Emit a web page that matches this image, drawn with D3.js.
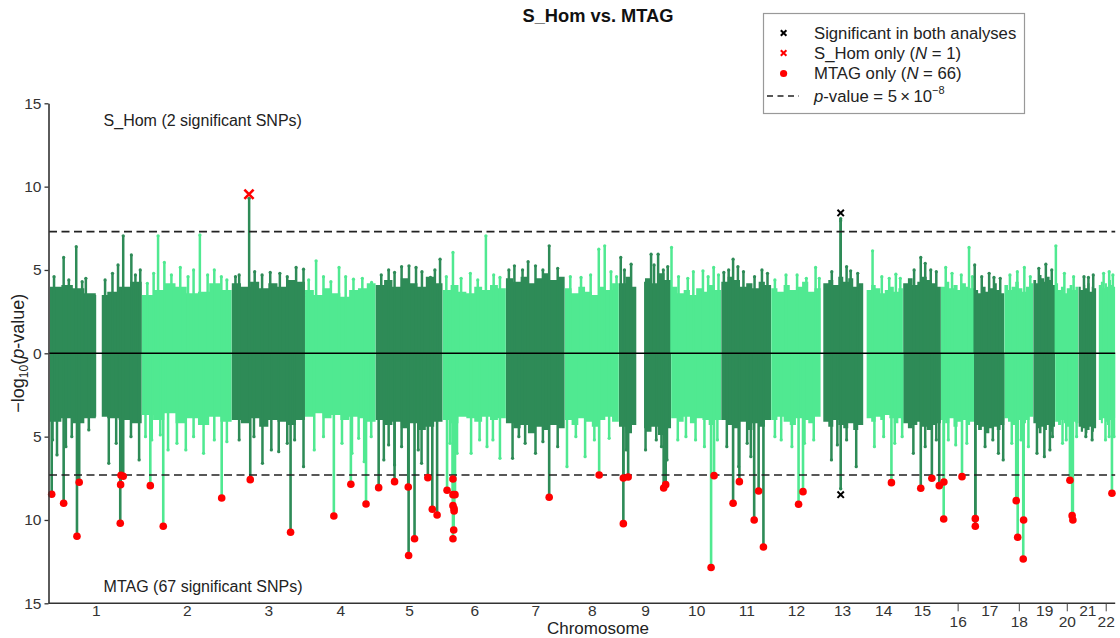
<!DOCTYPE html>
<html>
<head>
<meta charset="utf-8">
<script src="https://cdn.jsdelivr.net/npm/d3@7"></script>
<style>
  body { margin: 0; background: #fff; }
  svg { display: block; font-family: "Liberation Sans", Arial, sans-serif; }
</style>
</head>
<body>
<svg id="chart" width="1120" height="638"></svg>
<script>
// ---- Chromosome layout (hg19 lengths, Mb) ----
const chromosomes = ["1","2","3","4","5","6","7","8","9","10","11","12","13","14","15","16","17","18","19","20","21","22"];
const chromLengthMb = [249.25, 243.2, 198.0, 191.15, 180.9, 171.1, 159.1, 146.4, 141.2, 135.5, 135.0, 133.85, 115.2, 107.3, 102.5, 90.35, 81.2, 78.1, 59.1, 63.0, 48.1, 51.3];
const chromDataStartMb = [0.8, 0.1, 0.1, 0.1, 0.1, 0.2, 0.1, 0.2, 0.2, 0.1, 0.2, 0.2, 7, 9, 0.5, 0.1, 0.1, 0.1, 0.3, 0.1, 0.5, 7];
// regions without markers (chromosome, from Mb, to Mb)
const chromGaps = [[1, 126, 141], [9, 47, 68]];

// ---- Bulk of non-significant SNPs: -log10(p) envelope, evenly spaced along each chromosome ----
const sHomEnvelope = [
  [4.0, 4.1, 3.9, 3.6, 3.5, 3.7, 4.0, 4.3],
  [3.5, 3.8, 4.2, 4.0, 3.6, 3.7, 4.2, 3.8],
  [4.2, 4.0, 4.3, 3.9, 4.2, 4.0, 4.4, 4.3],
  [3.8, 3.5, 3.9, 3.6, 3.4, 3.8, 3.9, 4.2],
  [4.1, 4.4, 4.0, 4.5, 4.2, 4.0, 4.6, 4.2],
  [3.8, 4.1, 3.7, 3.6, 4.0, 3.8, 4.1, 3.9],
  [4.5, 4.3, 4.6, 4.2, 4.5, 4.8, 4.4, 4.6],
  [3.9, 3.6, 4.0, 3.7, 3.5, 4.0, 3.8, 4.2],
  [4.2, 4.6, 4.0, 4.3, 4.5, 4.2, 4.8, 4.4],
  [4.0, 3.6, 3.8, 3.5, 3.9, 3.7, 4.1, 3.8],
  [4.3, 4.6, 4.4, 4.0, 4.2, 3.9, 4.3, 4.1],
  [3.9, 3.7, 4.1, 3.8, 4.0, 4.3, 3.7, 3.9],
  [4.2, 4.4, 4.1, 4.6, 4.3, 4.5, 4.0, 4.2],
  [3.8, 4.1, 3.9, 3.6, 3.8, 4.0, 3.7, 3.9],
  [4.2, 4.5, 4.1, 4.3, 4.6, 4.4, 4.2, 4.0],
  [4.0, 4.3, 3.9, 4.1, 3.8, 4.2, 4.0, 3.9],
  [3.8, 3.6, 4.0, 3.7, 3.9, 4.2, 3.8, 3.6],
  [4.1, 3.8, 4.0, 4.3, 3.9, 3.7, 4.0, 4.2],
  [4.4, 4.2, 4.7, 4.5, 4.3, 4.6, 4.4, 4.1],
  [4.2, 3.8, 4.0, 3.6, 3.9, 4.1, 3.8, 4.0],
  [4.0, 3.8, 4.1, 3.9, 4.2, 3.7, 4.0, 3.9],
  [4.1, 4.3, 3.9, 4.2, 4.0, 4.4, 4.1, 4.0]
];
const mtagEnvelope = [
  [4.1, 3.9, 4.2, 3.9, 3.8, 3.9, 4.0, 4.2],
  [3.7, 4.0, 3.6, 4.2, 3.9, 4.3, 3.8, 4.1],
  [4.0, 4.2, 3.9, 4.4, 4.0, 4.1, 4.3, 4.0],
  [3.8, 3.6, 3.9, 3.7, 4.0, 3.8, 3.9, 4.1],
  [4.0, 4.3, 4.1, 4.5, 4.2, 4.6, 4.4, 4.1],
  [4.0, 4.2, 3.8, 3.9, 4.1, 3.8, 4.0, 3.9],
  [4.2, 4.5, 4.3, 4.8, 4.4, 4.6, 4.3, 4.5],
  [4.0, 4.3, 3.9, 4.1, 4.4, 4.0, 3.8, 4.1],
  [4.4, 4.8, 4.3, 4.5, 4.7, 4.4, 4.9, 4.5],
  [3.9, 4.1, 3.8, 4.2, 3.9, 4.0, 4.3, 4.0],
  [4.0, 4.3, 4.5, 4.1, 4.6, 4.2, 4.4, 4.0],
  [4.0, 3.8, 4.1, 4.3, 3.9, 4.0, 4.2, 3.8],
  [4.1, 4.4, 4.0, 4.3, 4.5, 4.2, 4.6, 4.3],
  [3.9, 4.1, 3.8, 4.0, 3.7, 3.9, 4.2, 3.9],
  [4.2, 4.5, 4.3, 4.1, 4.4, 4.6, 4.3, 4.2],
  [4.0, 4.2, 3.9, 4.4, 4.1, 4.0, 4.3, 4.1],
  [4.3, 4.6, 4.4, 4.8, 4.5, 4.4, 4.6, 4.3],
  [3.9, 4.1, 4.3, 3.9, 4.0, 4.2, 4.0, 3.8],
  [4.2, 4.5, 4.8, 4.4, 4.6, 4.3, 4.7, 4.4],
  [4.1, 4.3, 4.0, 4.2, 4.4, 3.9, 4.1, 4.2],
  [4.4, 4.7, 4.5, 4.8, 4.6, 4.4, 4.7, 4.5],
  [4.0, 4.2, 3.9, 4.1, 4.3, 4.0, 4.2, 3.9]
];

// ---- Sub-threshold peaks: [chromosome, position Mb, -log10(p)] ----
const sHomPeaks = [
  [1, 12, 4.6], [1, 38, 5.75], [1, 52, 4.4], [1, 72, 6.4], [1, 88, 4.3], [1, 98, 4.5], [1, 150, 4.4], [1, 170, 4.8], [1, 185, 5.3], [1, 199, 7.05], [1, 221, 5.9], [1, 232, 4.7], [1, 245, 5.0],
  [2, 15, 4.2], [2, 32, 4.8], [2, 44, 7.05], [2, 61, 5.45], [2, 80, 4.7], [2, 104, 5.15], [2, 125, 4.6], [2, 140, 5.0], [2, 157, 7.1], [2, 178, 4.7], [2, 196, 5.0], [2, 215, 4.6], [2, 230, 4.4],
  [3, 10, 4.6], [3, 20, 4.7], [3, 47, 9.3], [3, 62, 4.9], [3, 82, 4.7], [3, 104, 4.85], [3, 130, 4.8], [3, 150, 4.6], [3, 174, 5.15], [3, 194, 5.05],
  [4, 10, 4.4], [4, 30, 5.55], [4, 50, 4.6], [4, 70, 4.3], [4, 92, 5.15], [4, 110, 4.6], [4, 131, 4.45], [4, 155, 4.5], [4, 180, 4.25],
  [5, 15, 4.7], [5, 35, 5.0], [5, 51, 4.85], [5, 70, 5.2], [5, 90, 5.25], [5, 109, 5.15], [5, 125, 4.9], [5, 148, 4.55], [5, 160, 5.0], [5, 174, 5.65],
  [6, 10, 4.6], [6, 28, 6.05], [6, 50, 4.5], [6, 75, 4.8], [6, 95, 4.4], [6, 117, 7.05], [6, 138, 4.7], [6, 155, 4.55],
  [7, 8, 5.0], [7, 23, 5.25], [7, 45, 5.0], [7, 60, 5.5], [7, 80, 5.25], [7, 100, 5.0], [7, 117, 6.45], [7, 140, 5.1],
  [8, 15, 4.6], [8, 44, 4.55], [8, 70, 4.7], [8, 92, 6.25], [8, 108, 6.45], [8, 125, 4.9], [8, 140, 4.6],
  [9, 5, 5.75], [9, 15, 5.0], [9, 33, 5.35], [9, 87, 5.95], [9, 95, 5.3], [9, 106, 5.95], [9, 120, 5.0], [9, 132, 5.2],
  [10, 1, 6.35], [10, 20, 4.6], [10, 45, 4.5], [10, 60, 4.9], [10, 86, 4.95], [10, 100, 4.6], [10, 115, 5.15], [10, 128, 4.7],
  [11, 7, 4.85], [11, 20, 5.0], [11, 32, 5.65], [11, 45, 5.2], [11, 60, 4.9], [11, 90, 4.6], [11, 110, 5.0], [11, 125, 4.8],
  [12, 10, 4.4], [12, 40, 4.7], [12, 70, 4.7], [12, 95, 4.5], [12, 120, 5.15], [12, 130, 4.5],
  [13, 30, 4.9], [13, 54, 7.95], [13, 70, 5.2], [13, 81, 4.95], [13, 100, 4.8],
  [14, 25, 6.15], [14, 50, 4.6], [14, 70, 4.5], [14, 88, 4.75], [14, 100, 4.5],
  [15, 30, 5.0], [15, 48, 5.75], [15, 60, 5.4], [15, 75, 5.0], [15, 90, 4.9],
  [16, 13, 5.15], [16, 30, 4.8], [16, 55, 4.7], [16, 76, 6.35], [16, 85, 4.6],
  [17, 1, 5.3], [17, 20, 4.6], [17, 40, 4.8], [17, 53, 4.55], [17, 70, 4.5],
  [18, 15, 4.7], [18, 35, 4.9], [18, 54, 5.15], [18, 70, 4.6],
  [19, 15, 5.1], [19, 34, 5.35], [19, 50, 5.0],
  [20, 2, 6.45], [20, 25, 4.8], [20, 50, 4.6],
  [21, 15, 4.6], [21, 27, 4.55], [21, 40, 4.7],
  [22, 20, 4.8], [22, 35, 4.9], [22, 45, 4.7]
];
const mtagPeaks = [
  [1, 8, 5.2], [1, 20, 6.1], [1, 44, 5.6], [1, 60, 5.0], [1, 106, 4.6], [1, 160, 6.6], [1, 180, 5.4], [1, 220, 5.0], [1, 242, 6.4],
  [2, 10, 5.0], [2, 27, 5.2], [2, 50, 4.9], [2, 71, 5.8], [2, 95, 5.4], [2, 119, 5.8], [2, 140, 5.0], [2, 167, 6.0], [2, 196, 5.2], [2, 230, 5.3],
  [3, 20, 5.2], [3, 60, 5.0], [3, 83, 6.6], [3, 107, 5.8], [3, 127, 5.9], [3, 150, 5.4], [3, 170, 5.2], [3, 194, 6.8],
  [4, 25, 5.8], [4, 50, 5.0], [4, 100, 5.4], [4, 127, 6.0], [4, 145, 5.1], [4, 160, 6.5], [4, 179, 5.0],
  [5, 22, 6.4], [5, 35, 5.5], [5, 51, 6.7], [5, 70, 5.6], [5, 115, 5.8], [5, 124, 6.6],
  [6, 20, 5.4], [6, 39, 6.0], [6, 77, 6.0], [6, 100, 5.2], [6, 120, 5.6], [6, 136, 5.2], [6, 155, 6.3],
  [7, 18, 6.3], [7, 35, 5.0], [7, 52, 5.4], [7, 80, 6.0], [7, 100, 5.3], [7, 140, 5.6],
  [8, 6, 6.8], [8, 30, 5.0], [8, 55, 6.2], [8, 80, 5.2], [8, 120, 5.1],
  [9, 20, 5.8], [9, 72, 5.8], [9, 101, 5.2], [9, 115, 5.6], [9, 130, 6.4],
  [10, 18, 5.2], [10, 40, 5.0], [10, 66, 5.2], [10, 90, 5.6], [10, 125, 5.2],
  [11, 15, 5.6], [11, 47, 6.8], [11, 70, 5.4], [11, 80, 6.2],
  [12, 10, 5.0], [12, 27, 5.2], [12, 56, 5.6], [12, 90, 5.4], [12, 115, 5.2],
  [13, 29, 6.4], [13, 45, 5.5], [13, 70, 5.2], [13, 96, 6.8],
  [14, 30, 5.6], [14, 55, 5.0], [14, 85, 5.4], [14, 105, 5.0],
  [15, 28, 6.0], [15, 60, 5.6], [15, 90, 5.2],
  [16, 20, 5.2], [16, 40, 5.5], [16, 70, 5.4],
  [17, 29, 5.6], [17, 50, 5.2], [17, 65, 6.0], [17, 78, 6.4],
  [18, 20, 5.4], [18, 45, 5.2], [18, 65, 5.6],
  [19, 10, 6.0], [19, 30, 6.2], [19, 45, 5.8], [19, 52, 5.0],
  [20, 20, 5.4], [20, 30, 5.2], [20, 58, 5.0],
  [21, 20, 5.0], [21, 37, 5.2],
  [22, 25, 5.2], [22, 35, 5.0], [22, 48, 5.0]
];

// ---- Genome-wide significant SNPs ----
const sHomOnly = [[3, 46.6, 9.54]];
// [chromosome, position Mb, S_Hom -log10(p), MTAG -log10(p)]
const sigBoth = [[13, 54, 8.42, 8.48]];
const mtagOnly = [
  [1, 5.7, 8.46], [1, 38, 9.0], [1, 74, 10.98], [1, 80, 7.74], [1, 193, 7.32], [1, 199, 7.38], [1, 192, 7.88], [1, 191, 10.2],
  [2, 23, 7.94], [2, 58, 10.38], [2, 216, 8.68],
  [3, 50, 7.58], [3, 159, 10.74],
  [4, 78, 9.76], [4, 124, 7.86], [4, 165, 9.04],
  [5, 8, 8.06], [5, 51, 7.7], [5, 88, 8.02], [5, 89, 12.13], [5, 105, 11.13], [5, 141, 7.46], [5, 153, 9.36], [5, 166, 9.7],
  [6, 12, 8.22], [6, 28, 7.54], [6, 28, 8.48], [6, 33.5, 8.48], [6, 28, 9.14], [6, 31, 9.32], [6, 31, 9.46], [6, 30, 10.6], [6, 28, 11.13],
  [7, 117, 8.64],
  [8, 93, 7.3],
  [9, 12, 7.48], [9, 25, 7.42], [9, 12, 10.22], [9, 126.5, 7.88], [9, 121, 8.08],
  [10, 116, 7.34], [10, 108, 12.85],
  [11, 49, 7.7], [11, 32, 9.0], [11, 101, 8.26], [11, 89, 10.0], [11, 114, 11.62],
  [12, 86, 8.3], [12, 74, 9.06],
  [14, 76, 7.76],
  [15, 48, 8.1], [15, 78, 7.5], [15, 98, 7.94],
  [16, 8, 7.72], [16, 7.5, 9.94], [16, 57, 7.4],
  [17, 2.6, 9.92], [17, 2.6, 10.38],
  [18, 32, 8.84], [18, 36, 11.04], [18, 52, 10.0], [18, 51, 12.34],
  [20, 40, 7.62], [20, 46, 9.74], [20, 48, 10.0],
  [22, 42.5, 8.4]
];

const yTickValues = [15, 10, 5, 0, -5, -10, -15];
const lowerRowLabels = ["16", "18", "20", "22"];
const gwsThreshold = -Math.log10(5e-8);

// ---- Styling ----
const darkGreen = "#2e8b57";
const lightGreen = "#50e991";
const sigRed = "#ff0000";

const svg = d3.select("#chart");
const offsets = [0, ...d3.cumsum(chromLengthMb)];
const totalMb = offsets[offsets.length - 1];

const x = d3.scaleLinear().domain([0, totalMb]).range([49.6, 1115.2]);
const y = d3.scaleLinear().domain([-15, 15]).range([603.3, 103.3]);
const gx = (c, p) => x(offsets[c - 1] + p);
const colorOf = c => (c % 2 === 1 ? darkGreen : lightGreen);

const plot = svg.append("g");

// Bulk of SNPs for each chromosome: S_Hom above zero, MTAG mirrored below
const bodyArea = d3.area()
  .x(d => d.x)
  .y0(d => y(-d.bottom))
  .y1(d => y(d.top))
  .curve(d3.curveStepAfter);

chromosomes.forEach((name, i) => {
  const c = i + 1;
  const start = chromDataStartMb[i];
  const end = chromLengthMb[i] - 0.3;
  const top = sHomEnvelope[i];
  const bot = mtagEnvelope[i];
  const n = top.length;
  const step = (end - start) / n;
  const pts = d3.range(n + 1).map(k => ({
    x: gx(c, start + k * step),
    top: top[Math.min(k, n - 1)],
    bottom: bot[Math.min(k, n - 1)]
  }));
  plot.append("path")
    .attr("d", bodyArea(pts))
    .attr("fill", colorOf(c));
});

// Regions without markers
chromGaps.forEach(([c, a, b]) => {
  plot.append("rect")
    .attr("x", gx(c, a))
    .attr("width", gx(c, b) - gx(c, a))
    .attr("y", y(15))
    .attr("height", y(-15) - y(15))
    .attr("fill", "#fff");
});

// Peak columns (stacked SNPs at a locus)
function drawColumn(c, p, v, sign, w) {
  const cx = gx(c, p);
  const yTip = y(sign * v);
  plot.append("rect")
    .attr("x", cx - w / 2)
    .attr("width", w)
    .attr("y", Math.min(yTip, y(0)))
    .attr("height", Math.abs(y(0) - yTip))
    .attr("fill", colorOf(c));
  plot.append("circle")
    .attr("cx", cx).attr("cy", yTip).attr("r", w * 0.65)
    .attr("fill", colorOf(c));
}
sHomPeaks.forEach(([c, p, v]) => drawColumn(c, p, v, 1, 2.5));
mtagPeaks.forEach(([c, p, v]) => drawColumn(c, p, v, -1, 2.5));
mtagOnly.forEach(([c, p, v]) => drawColumn(c, p, v - 0.1, -1, 2.6));
sigBoth.forEach(([c, p, a, b]) => {
  drawColumn(c, p, a - 0.35, 1, 2.6);
  drawColumn(c, p, b - 0.35, -1, 2.6);
});

// Zero line and genome-wide significance thresholds
plot.append("line")
  .attr("x1", 49).attr("x2", 1115.2)
  .attr("y1", y(0)).attr("y2", y(0))
  .attr("stroke", "#000").attr("stroke-width", 1.6);
[gwsThreshold, -gwsThreshold].forEach(t => {
  plot.append("line")
    .attr("x1", 49).attr("x2", 1115.2)
    .attr("y1", y(t)).attr("y2", y(t))
    .attr("stroke", "#222").attr("stroke-width", 1.6)
    .attr("stroke-dasharray", "8,4.5");
});

// Significant SNP markers
const crossPath = s => `M${-s},${-s}L${s},${s}M${-s},${s}L${s},${-s}`;
plot.selectAll(".mtag-only").data(mtagOnly).join("circle")
  .attr("class", "mtag-only")
  .attr("cx", d => gx(d[0], d[1]))
  .attr("cy", d => y(-d[2]))
  .attr("r", 3.8)
  .attr("fill", sigRed);
plot.selectAll(".shom-only").data(sHomOnly).join("path")
  .attr("class", "shom-only")
  .attr("transform", d => `translate(${gx(d[0], d[1])},${y(d[2])})`)
  .attr("d", crossPath(4.6))
  .attr("stroke", sigRed).attr("stroke-width", 2.6).attr("fill", "none");
sigBoth.forEach(([c, p, a, b]) => {
  [y(a), y(-b)].forEach(yy => {
    plot.append("path")
      .attr("transform", `translate(${gx(c, p)},${yy})`)
      .attr("d", crossPath(3.2))
      .attr("stroke", "#000").attr("stroke-width", 2).attr("fill", "none");
  });
});

// ---- Axes ----
const yAxis = d3.axisLeft(y)
  .tickValues(yTickValues)
  .tickFormat(d => Math.abs(d))
  .tickSize(4)
  .tickSizeOuter(0)
  .tickPadding(3);
const gy = svg.append("g")
  .attr("transform", "translate(48.5,0)")
  .call(yAxis);
gy.select(".domain").attr("stroke", "#333").attr("stroke-width", 1.6);
gy.selectAll(".tick line").attr("stroke", "#333").attr("stroke-width", 1.3);
gy.selectAll(".tick text").attr("font-size", 15.5).attr("fill", "#333")
  .attr("font-family", '"Liberation Sans", Arial, sans-serif');

const centers = chromosomes.map((_, i) => offsets[i] + chromLengthMb[i] / 2);
const xAxis = d3.axisBottom(x)
  .tickValues(centers)
  .tickFormat((d, i) => chromosomes[i])
  .tickSize(0)
  .tickSizeOuter(0)
  .tickPadding(1.5);
const gxAxis = svg.append("g")
  .attr("transform", `translate(0,${y(-15)})`)
  .call(xAxis);
gxAxis.select(".domain")
  .attr("d", `M48.5,0H${x(totalMb)}`)
  .attr("stroke", "#333").attr("stroke-width", 1.6);
gxAxis.selectAll(".tick text")
  .attr("font-size", 15.5).attr("fill", "#333")
  .attr("font-family", '"Liberation Sans", Arial, sans-serif');
gxAxis.selectAll(".tick").each(function (d, i) {
  if (lowerRowLabels.includes(chromosomes[i])) {
    const t = d3.select(this);
    t.select("line").attr("y2", 8).attr("stroke", "#444").attr("stroke-width", 1);
    t.select("text").attr("y", 13);
  }
});

// ---- Text ----
svg.append("text")
  .attr("x", 598).attr("y", 22)
  .attr("text-anchor", "middle")
  .attr("font-size", 18.3).attr("font-weight", "bold").attr("fill", "#111")
  .text("S_Hom vs. MTAG");

svg.append("text")
  .attr("x", 598).attr("y", 634)
  .attr("text-anchor", "middle")
  .attr("font-size", 17).attr("fill", "#222")
  .text("Chromosome");

const ylab = svg.append("text")
  .attr("transform", `translate(24,${y(0)}) rotate(-90)`)
  .attr("text-anchor", "middle")
  .attr("font-size", 18).attr("fill", "#222");
ylab.append("tspan").text("\u2212log");
ylab.append("tspan").attr("font-size", 12).attr("dy", 4).text("10");
ylab.append("tspan").attr("dy", -4).text("(");
ylab.append("tspan").attr("font-style", "italic").text("p");
ylab.append("tspan").text("-value)");

svg.append("text")
  .attr("x", 103.6).attr("y", 126)
  .attr("font-size", 16).attr("fill", "#222")
  .text("S_Hom (2 significant SNPs)");
svg.append("text")
  .attr("x", 103.6).attr("y", 592)
  .attr("font-size", 16).attr("fill", "#222")
  .text("MTAG (67 significant SNPs)");

// ---- Legend ----
const lg = svg.append("g");
lg.append("rect")
  .attr("x", 763.5).attr("y", 13.5).attr("width", 261).attr("height", 100)
  .attr("fill", "#fff").attr("stroke", "#999").attr("stroke-width", 1.2);
const lx = 783.6, tx = 814;
const rows = [33, 53, 73.5, 96];
lg.append("path").attr("transform", `translate(${lx},${rows[0]})`).attr("d", crossPath(2.8))
  .attr("stroke", "#000").attr("stroke-width", 2).attr("fill", "none");
lg.append("path").attr("transform", `translate(${lx},${rows[1]})`).attr("d", crossPath(2.8))
  .attr("stroke", sigRed).attr("stroke-width", 2).attr("fill", "none");
lg.append("circle").attr("cx", lx).attr("cy", rows[2]).attr("r", 3.6).attr("fill", sigRed);
lg.append("line").attr("x1", 767).attr("x2", 799).attr("y1", rows[3]).attr("y2", rows[3])
  .attr("stroke", "#222").attr("stroke-width", 1.6).attr("stroke-dasharray", "6,4.5");

const fs = 16.7;
lg.append("text").attr("x", tx).attr("y", rows[0] + 5.8).attr("font-size", fs).attr("fill", "#222")
  .text("Significant in both analyses");
const t2 = lg.append("text").attr("x", tx).attr("y", rows[1] + 5.8).attr("font-size", fs).attr("fill", "#222");
t2.append("tspan").text("S_Hom only (");
t2.append("tspan").attr("font-style", "italic").text("N");
t2.append("tspan").text(" = 1)");
const t3 = lg.append("text").attr("x", tx).attr("y", rows[2] + 5.8).attr("font-size", fs).attr("fill", "#222");
t3.append("tspan").text("MTAG only (");
t3.append("tspan").attr("font-style", "italic").text("N");
t3.append("tspan").text(" = 66)");
const t4 = lg.append("text").attr("x", tx).attr("y", rows[3] + 6).attr("font-size", fs).attr("fill", "#222");
t4.append("tspan").attr("font-style", "italic").text("p");
t4.append("tspan").text("-value = 5\u2009\u00d7\u200910");
t4.append("tspan").attr("font-size", 11).attr("dy", -8).text("\u22128");
</script>
</body>
</html>
